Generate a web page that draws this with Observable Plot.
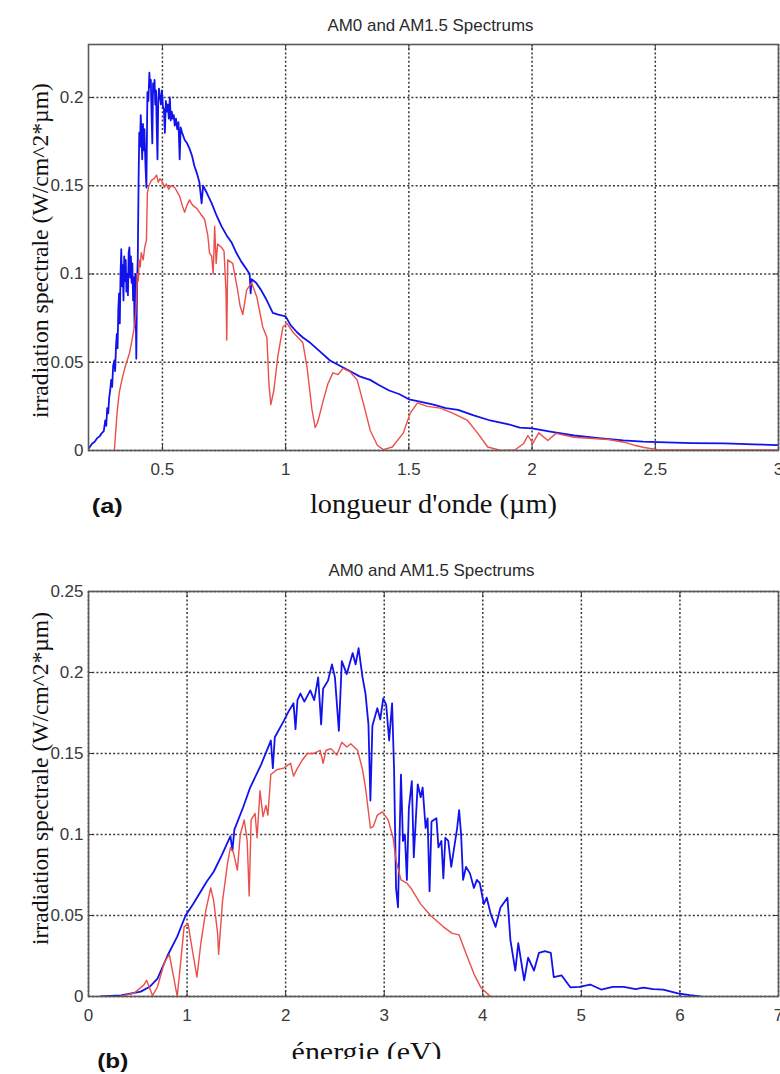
<!DOCTYPE html>
<html><head><meta charset="utf-8">
<script src="https://cdn.jsdelivr.net/npm/d3@7"></script>
<script src="https://cdn.jsdelivr.net/npm/@observablehq/plot@0.6"></script>
<style>
body{margin:0;background:#fff;}
#page{position:relative;width:780px;height:1074px;overflow:hidden;background:#fff;}
.t{position:absolute;white-space:nowrap;line-height:1;transform-origin:center center;}
.panel{position:absolute;left:0;}
</style></head><body><div id="page"></div>
<script>
// ---------- texts ----------
const titleText = "AM0 and AM1.5 Spectrums";
const yLabelText = "irradiation spectrale (W/cm^2*µm)";
const xLabelA = "longueur d'onde (µm)";
const xLabelB = "énergie (eV)";
const tagA = "(a)";
const tagB = "(b)";

// ---------- ticks ----------
const xTicksA = [0.5, 1, 1.5, 2, 2.5, 3];
const yTicksA = [0, 0.05, 0.1, 0.15, 0.2];
const xTicksB = [0, 1, 2, 3, 4, 5, 6, 7];
const yTicksB = [0, 0.05, 0.1, 0.15, 0.2, 0.25];

// ---------- panel (a): wavelength (µm), irradiance ----------
const am0Wavelength = [
[0.200,0.001],[0.215,0.004],[0.225,0.005],[0.235,0.007],[0.245,0.008],[0.255,0.010],[0.262,0.011],
[0.268,0.017],[0.272,0.014],[0.276,0.024],[0.280,0.021],[0.284,0.030],[0.288,0.034],[0.292,0.040],
[0.296,0.036],[0.300,0.048],[0.305,0.051],[0.308,0.045],[0.312,0.060],[0.315,0.066],[0.318,0.058],
[0.321,0.080],[0.324,0.089],[0.327,0.072],[0.330,0.100],[0.333,0.114],[0.336,0.093],[0.339,0.105],
[0.342,0.085],[0.345,0.110],[0.348,0.096],[0.351,0.108],[0.354,0.090],[0.357,0.100],[0.360,0.088],
[0.363,0.112],[0.366,0.115],[0.369,0.098],[0.372,0.110],[0.375,0.095],[0.378,0.106],[0.381,0.085],
[0.384,0.098],[0.387,0.070],[0.390,0.100],[0.394,0.052],[0.397,0.095],[0.400,0.108],[0.403,0.150],
[0.406,0.180],[0.409,0.172],[0.412,0.190],[0.415,0.178],[0.418,0.165],[0.421,0.185],[0.424,0.170],
[0.427,0.182],[0.431,0.162],[0.435,0.149],[0.439,0.203],[0.443,0.198],[0.447,0.214],[0.450,0.206],
[0.453,0.210],[0.456,0.190],[0.459,0.174],[0.462,0.208],[0.465,0.203],[0.468,0.210],[0.471,0.196],
[0.474,0.204],[0.477,0.182],[0.480,0.165],[0.483,0.198],[0.486,0.205],[0.490,0.200],[0.494,0.196],
[0.498,0.204],[0.502,0.195],[0.506,0.193],[0.510,0.180],[0.514,0.198],[0.518,0.192],[0.522,0.196],
[0.526,0.188],[0.530,0.200],[0.534,0.187],[0.538,0.192],[0.542,0.188],[0.546,0.190],[0.550,0.184],
[0.555,0.188],[0.560,0.182],[0.565,0.186],[0.570,0.165],[0.574,0.183],[0.580,0.180],[0.590,0.176],
[0.600,0.174],[0.610,0.171],[0.620,0.167],[0.630,0.161],[0.640,0.157],[0.650,0.152],[0.659,0.140],
[0.665,0.150],[0.680,0.146],[0.700,0.140],[0.720,0.133],[0.740,0.127],[0.760,0.122],[0.780,0.118],
[0.800,0.112],[0.820,0.107],[0.840,0.103],[0.854,0.100],[0.858,0.089],[0.862,0.097],[0.880,0.095],
[0.900,0.091],[0.920,0.086],[0.948,0.078],[0.970,0.077],[1.000,0.076],[1.020,0.071],[1.046,0.067],
[1.070,0.064],[1.100,0.061],[1.140,0.056],[1.180,0.051],[1.220,0.048],[1.260,0.045],[1.300,0.042],
[1.343,0.040],[1.380,0.037],[1.420,0.034],[1.460,0.032],[1.500,0.029],[1.535,0.028],[1.600,0.026],
[1.650,0.024],[1.700,0.023],[1.760,0.020],[1.830,0.017],[1.900,0.015],[1.950,0.013],[2.000,0.0125],
[2.080,0.0105],[2.170,0.0085],[2.270,0.007],[2.370,0.0057],[2.450,0.005],[2.510,0.0047],[2.650,0.0042],
[2.780,0.004],[2.900,0.0035],[3.000,0.003]
];
const am15Wavelength = [
[0.305,0],[0.310,0.010],[0.317,0.023],[0.325,0.033],[0.337,0.041],[0.350,0.048],[0.366,0.055],
[0.376,0.062],[0.386,0.070],[0.392,0.078],[0.398,0.100],[0.402,0.096],[0.406,0.108],[0.410,0.104],
[0.414,0.112],[0.418,0.110],[0.422,0.108],[0.428,0.115],[0.435,0.119],[0.439,0.146],[0.445,0.150],
[0.455,0.153],[0.466,0.154],[0.476,0.156],[0.483,0.152],[0.490,0.154],[0.500,0.152],[0.508,0.149],
[0.516,0.151],[0.525,0.148],[0.535,0.150],[0.550,0.149],[0.570,0.144],[0.580,0.139],[0.590,0.135],
[0.600,0.139],[0.610,0.142],[0.622,0.139],[0.640,0.137],[0.655,0.134],[0.671,0.131],[0.684,0.122],
[0.691,0.112],[0.700,0.110],[0.706,0.100],[0.712,0.127],[0.718,0.106],[0.724,0.117],[0.740,0.115],
[0.750,0.113],[0.758,0.090],[0.761,0.0625],[0.765,0.108],[0.785,0.106],[0.805,0.091],[0.815,0.082],
[0.826,0.077],[0.842,0.091],[0.862,0.095],[0.883,0.087],[0.907,0.070],[0.924,0.064],[0.932,0.038],
[0.940,0.026],[0.952,0.034],[0.968,0.053],[0.989,0.070],[1.005,0.072],[1.030,0.067],[1.070,0.061],
[1.087,0.047],[1.107,0.023],[1.120,0.013],[1.130,0.016],[1.150,0.027],[1.172,0.038],[1.192,0.044],
[1.213,0.043],[1.233,0.0465],[1.262,0.0445],[1.290,0.040],[1.315,0.027],[1.343,0.0115],[1.372,0.003],
[1.396,0.0005],[1.433,0.002],[1.478,0.010],[1.505,0.021],[1.535,0.027],[1.575,0.025],[1.628,0.024],
[1.680,0.021],[1.738,0.017],[1.780,0.0097],[1.820,0.002],[1.873,0],[1.930,0.0003],[1.966,0.004],
[1.983,0.0085],[2.003,0.004],[2.027,0.010],[2.064,0.0057],[2.097,0.0097],[2.170,0.0075],[2.308,0.0062],
[2.374,0.0047],[2.414,0.003],[2.455,0.0017],[2.510,0.0005],[3.000,0.0003]
];

// ---------- panel (b): energy (eV), irradiance ----------
const am0Energy = [
[0.12,0],[0.33,0.0007],[0.53,0.003],[0.62,0.006],[0.70,0.011],[0.80,0.025],[0.90,0.037],[0.985,0.050],
[1.06,0.057],[1.14,0.065],[1.20,0.071],[1.27,0.077],[1.35,0.087],[1.44,0.099],[1.46,0.090],[1.48,0.103],
[1.57,0.117],[1.64,0.129],[1.75,0.143],[1.85,0.158],[1.87,0.141],[1.89,0.160],[1.98,0.170],[2.03,0.176],
[2.08,0.181],[2.10,0.165],[2.12,0.183],[2.15,0.187],[2.19,0.182],[2.25,0.189],[2.29,0.183],[2.33,0.197],
[2.36,0.168],[2.38,0.190],[2.43,0.195],[2.47,0.205],[2.50,0.197],[2.54,0.164],[2.57,0.207],[2.62,0.199],
[2.68,0.212],[2.71,0.205],[2.74,0.215],[2.78,0.197],[2.81,0.187],[2.84,0.168],[2.86,0.121],[2.88,0.167],
[2.93,0.178],[2.96,0.171],[2.99,0.184],[3.02,0.180],[3.05,0.158],[3.08,0.181],[3.10,0.140],[3.12,0.067],
[3.14,0.055],[3.17,0.137],[3.19,0.096],[3.21,0.100],[3.23,0.072],[3.25,0.116],[3.28,0.133],[3.30,0.086],
[3.34,0.131],[3.37,0.123],[3.39,0.129],[3.42,0.104],[3.44,0.110],[3.46,0.065],[3.48,0.108],[3.53,0.110],
[3.55,0.092],[3.58,0.096],[3.60,0.073],[3.62,0.098],[3.65,0.096],[3.68,0.080],[3.71,0.092],[3.74,0.104],
[3.76,0.115],[3.78,0.100],[3.80,0.072],[3.83,0.080],[3.87,0.076],[3.91,0.067],[3.94,0.072],[3.97,0.070],
[4.01,0.057],[4.04,0.061],[4.08,0.051],[4.13,0.043],[4.18,0.055],[4.25,0.061],[4.28,0.035],[4.33,0.016],
[4.36,0.033],[4.42,0.010],[4.46,0.024],[4.52,0.016],[4.57,0.027],[4.63,0.028],[4.69,0.027],[4.72,0.012],
[4.80,0.013],[4.89,0.0056],[4.98,0.006],[5.09,0.0074],[5.20,0.0043],[5.32,0.006],[5.43,0.006],[5.55,0.0045],
[5.63,0.0055],[5.73,0.0045],[5.83,0.0043],[5.98,0.0019],[6.10,0.0008],[6.21,0]
];
const am15Energy = [
[0.32,0],[0.46,0.002],[0.56,0.007],[0.59,0.010],[0.65,0.0005],[0.70,0.006],[0.77,0.021],[0.82,0.026],
[0.87,0.010],[0.90,0],[0.93,0.018],[0.97,0.043],[1.01,0.045],[1.05,0.030],[1.10,0.012],[1.14,0.033],
[1.19,0.053],[1.24,0.067],[1.27,0.059],[1.31,0.039],[1.32,0.026],[1.36,0.059],[1.41,0.082],[1.44,0.092],
[1.47,0.089],[1.51,0.078],[1.54,0.100],[1.58,0.109],[1.61,0.096],[1.63,0.062],[1.65,0.109],[1.69,0.113],
[1.71,0.098],[1.74,0.127],[1.77,0.111],[1.80,0.118],[1.82,0.112],[1.85,0.137],[1.91,0.140],[1.98,0.141],
[2.05,0.144],[2.08,0.136],[2.12,0.141],[2.17,0.146],[2.22,0.150],[2.28,0.150],[2.32,0.151],[2.35,0.152],
[2.38,0.144],[2.41,0.152],[2.46,0.153],[2.52,0.149],[2.57,0.157],[2.62,0.154],[2.66,0.156],[2.73,0.152],
[2.78,0.140],[2.81,0.129],[2.86,0.104],[2.89,0.105],[2.93,0.112],[2.98,0.114],[3.04,0.109],[3.09,0.098],
[3.12,0.084],[3.17,0.072],[3.23,0.070],[3.27,0.067],[3.37,0.057],[3.47,0.050],[3.60,0.043],[3.69,0.039],
[3.76,0.038],[3.83,0.0265],[3.91,0.014],[3.98,0.0056],[4.05,0.0015],[4.08,0]
];

const BLUE = "#1212ec", RED = "#ea4f4a";
const page = document.getElementById("page");
const fmt = d => String(d);

function panel({top, height, mt, mb, xDomain, yDomain, xTicks, yTicks, am0, am15}) {
  const gridStyle = {stroke: "#222", strokeOpacity: 0.9, strokeDasharray: "2,2.2", strokeWidth: 1.5};
  const chart = Plot.plot({
    width: 780, height, marginTop: mt, marginBottom: mb, marginLeft: 88, marginRight: 2,
    style: {fontFamily: "'Liberation Sans', Arial, sans-serif", fontSize: "17px", color: "#3a3a3a", background: "transparent", overflow: "visible"},
    x: {domain: xDomain},
    y: {domain: yDomain},
    marks: [
      Plot.gridX(xTicks, gridStyle),
      Plot.gridY(yTicks, gridStyle),
      Plot.axisX(xTicks, {anchor: "bottom", tickSize: 0, tickPadding: 12, label: null, tickFormat: fmt}),
      Plot.axisY(yTicks, {anchor: "left", tickSize: 0, tickPadding: 5, label: null, tickFormat: fmt}),
      Plot.axisX(xTicks, {anchor: "bottom", tickSize: -5, label: null, tickFormat: () => "", stroke: "#333"}),
      Plot.axisX(xTicks, {anchor: "top", tickSize: -5, label: null, tickFormat: () => "", stroke: "#333"}),
      Plot.axisY(yTicks, {anchor: "left", tickSize: -5, label: null, tickFormat: () => "", stroke: "#333"}),
      Plot.axisY(yTicks, {anchor: "right", tickSize: -5, label: null, tickFormat: () => "", stroke: "#333"}),
      Plot.line(am0, {x: d => d[0], y: d => d[1], stroke: BLUE, strokeWidth: 1.8, clip: true}),
      Plot.line(am15, {x: d => d[0], y: d => d[1], stroke: RED, strokeWidth: 1.4, clip: true}),
      Plot.frame({stroke: "#5a5a5a", strokeWidth: 1.6})
    ]
  });
  const wrap = document.createElement("div");
  wrap.className = "panel";
  wrap.style.top = top + "px";
  wrap.appendChild(chart);
  page.appendChild(wrap);
}

panel({top: 0, height: 490, mt: 44, mb: 40, xDomain: [0.2, 3], yDomain: [0, 0.23],
       xTicks: xTicksA, yTicks: yTicksA, am0: am0Wavelength, am15: am15Wavelength});
panel({top: 540, height: 490, mt: 51, mb: 34, xDomain: [0, 7], yDomain: [0, 0.25],
       xTicks: xTicksB, yTicks: yTicksB, am0: am0Energy, am15: am15Energy});

const SANS = "'Liberation Sans', Arial, sans-serif";
const SERIF = "'Liberation Serif', 'Times New Roman', serif";
function addText(str, o, parent = page) {
  const s = document.createElement("span");
  s.className = "t";
  s.textContent = str;
  s.style.fontFamily = o.family;
  s.style.fontSize = o.size + "px";
  s.style.fontWeight = o.weight || "normal";
  s.style.color = o.color || "#111";
  parent.appendChild(s);
  const w = s.getBoundingClientRect().width;
  const scale = o.width ? o.width / w : 1;
  s.style.left = (o.cx - w / 2) + "px";
  if (o.rotate) {
    s.style.top = (o.cy - o.size / 2) + "px";
    s.style.transform = `rotate(-90deg) scaleX(${scale})`;
  } else {
    const k = o.family === SERIF ? 0.8375 : 0.847;
    s.style.top = (o.baseline - k * o.size) + "px";
    s.style.transform = `scaleX(${scale})`;
  }
  return s;
}

addText(titleText, {cx: 430, baseline: 31, size: 17, family: SANS, color: "#2a2a2a", width: 206});
addText(titleText, {cx: 431, baseline: 576, size: 17, family: SANS, color: "#2a2a2a", width: 206});
addText(yLabelText, {cx: 41, cy: 250, size: 23, family: SERIF, width: 335, rotate: true});
addText(yLabelText, {cx: 41, cy: 778, size: 23, family: SERIF, width: 333, rotate: true});
addText(xLabelA, {cx: 433.5, baseline: 514, size: 27, family: SERIF, width: 247});
addText(tagA, {cx: 107.5, baseline: 513, size: 20, family: SANS, weight: "bold", width: 31});
const clip = document.createElement("div");
clip.style.cssText = "position:absolute;left:0;top:0;width:780px;height:1059px;overflow:hidden;";
page.appendChild(clip);
addText(xLabelB, {cx: 367, baseline: 1062, size: 27, family: SERIF, width: 150}, clip);
addText(tagB, {cx: 112.5, baseline: 1068, size: 20, family: SANS, weight: "bold", width: 31});
</script></body></html>
